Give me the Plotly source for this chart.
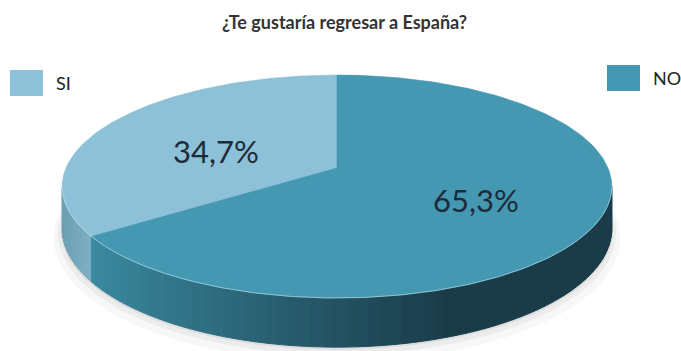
import numpy as np
import plotly.graph_objects as go

# ---------------- data ----------------
title_text = "¿Te gustaría regresar a España?"
labels = ["SI", "NO"]
values = [34.7, 65.3]
top_colors = ["#8CC1D7", "#4498B2"]
wall_left_colors = ["#7DAEC2", "#3B8BA2"]
wall_right_colors = ["#6A9DB2", "#1A3B48"]
legend_pos = [("left", 10, 70), ("right", 607, 65)]  # layout only
label_pos = [(216, 151), (476, 200)]  # layout only

# ---------------- geometry (pixel space) ----------------
W, Hh = 681, 351
CX, CY = 337.0, 168.0   # projected centre of the pie
A, B = 271.0, 108.4     # horizontal / vertical radii
P = 0.166               # perspective factor
DEPTH = 41.0            # wall height


def proj(theta, r=1.0, drop=0.0):
    u = -np.sin(theta) * r
    v = np.cos(theta) * r
    s = 1.0 / (1.0 + P * v)
    return CX + A * u * s, CY - B * v * s + drop * s


def hex2rgb(h):
    h = h.lstrip("#")
    return np.array([int(h[i:i + 2], 16) for i in (0, 2, 4)], dtype=float)


def mix(c1, c2, t):
    c = hex2rgb(c1) * (1 - t) + hex2rgb(c2) * t
    return "rgb(%d,%d,%d)" % tuple(np.round(c).astype(int))


total = float(sum(values))
bounds = np.concatenate([[0.0], np.cumsum(values) / total * 2 * np.pi])
sil = np.arccos(-P)            # left silhouette angle
vis_a, vis_b = sil, 2 * np.pi - sil

fig = go.Figure()

# soft shadow
for sc, dp, al in [(1.03, DEPTH + 8, 0.03), (1.015, DEPTH + 4, 0.045), (1.005, DEPTH + 1.5, 0.06)]:
    th = np.linspace(0, 2 * np.pi, 200)
    xs, ys = proj(th, sc, dp)
    fig.add_trace(go.Scatter(x=xs, y=ys, fill="toself", mode="lines", line=dict(width=0),
                             fillcolor="rgba(0,0,0,%.3f)" % al, hoverinfo="skip"))

# walls (front visible part), drawn as shaded strips
for i in range(len(values)):
    a0, a1 = max(bounds[i], vis_a), min(bounds[i + 1], vis_b)
    if a1 <= a0:
        continue
    n = max(2, int(np.degrees(a1 - a0) / 2))
    edges = np.linspace(a0, a1, n + 1)
    for j in range(n):
        th = np.linspace(edges[j], edges[j + 1], 4)
        xt, yt = proj(th)
        xb, yb = proj(th[::-1], 1.0, DEPTH)
        xm = np.mean(xt)
        if i == 1:
            t = np.clip((xm - 90) / (450 - 90), 0, 1)
            col = mix(wall_left_colors[i], wall_right_colors[i], t ** 0.9)
        else:
            t = np.clip((xm - 60) / 30, 0, 1)
            col = mix(wall_right_colors[i], wall_left_colors[i], t)
        fig.add_trace(go.Scatter(x=np.concatenate([xt, xb, xt[:1]]), y=np.concatenate([yt, yb, yt[:1]]),
                                 fill="toself", mode="lines", line=dict(width=1, color=col),
                                 fillcolor=col, hoverinfo="skip"))

# top faces
for i in range(len(values)):
    th = np.linspace(bounds[i], bounds[i + 1], 180)
    xs, ys = proj(th)
    fig.add_trace(go.Scatter(x=np.concatenate([[CX], xs, [CX]]), y=np.concatenate([[CY], ys, [CY]]),
                             fill="toself", mode="lines", line=dict(width=0.6, color=top_colors[i]),
                             fillcolor=top_colors[i], name=labels[i], hoverinfo="skip"))

# rim highlight
th = np.linspace(vis_a, vis_b, 200)
xs, ys = proj(th)
fig.add_trace(go.Scatter(x=xs, y=ys, mode="lines", line=dict(width=1.0, color="rgba(200,232,242,0.6)"),
                         hoverinfo="skip"))

# percentage labels
for i in range(len(values)):
    txt = ("%.1f" % values[i]).replace(".", ",") + "%"
    fig.add_annotation(x=label_pos[i][0], y=label_pos[i][1], text=txt, showarrow=False,
                       font=dict(family="Lato", size=31, color="#1E2B38"), xanchor="center", yanchor="middle")

# legend (manual)
for i in range(len(labels)):
    _, lx, ly = legend_pos[i]
    fig.add_shape(type="rect", x0=lx, x1=lx + 33, y0=ly, y1=ly + 26, xref="x", yref="y",
                  fillcolor=top_colors[i], line=dict(width=0))
    fig.add_annotation(x=lx + 44, y=ly + 13, text=labels[i], showarrow=False, xanchor="left", yanchor="middle",
                       font=dict(family="Lato", size=18, color="#222222"))

fig.add_annotation(x=344, y=22, text="<b>" + title_text + "</b>", showarrow=False, xanchor="center",
                   yanchor="middle", font=dict(family="Lato", size=18, color="#333333"))

fig.update_layout(width=W, height=Hh, margin=dict(l=0, r=0, t=0, b=0), showlegend=False,
                  paper_bgcolor="white", plot_bgcolor="white",
                  xaxis=dict(range=[0, W], visible=False, fixedrange=True),
                  yaxis=dict(range=[Hh, 0], visible=False, fixedrange=True))

fig.write_html("out.html")
